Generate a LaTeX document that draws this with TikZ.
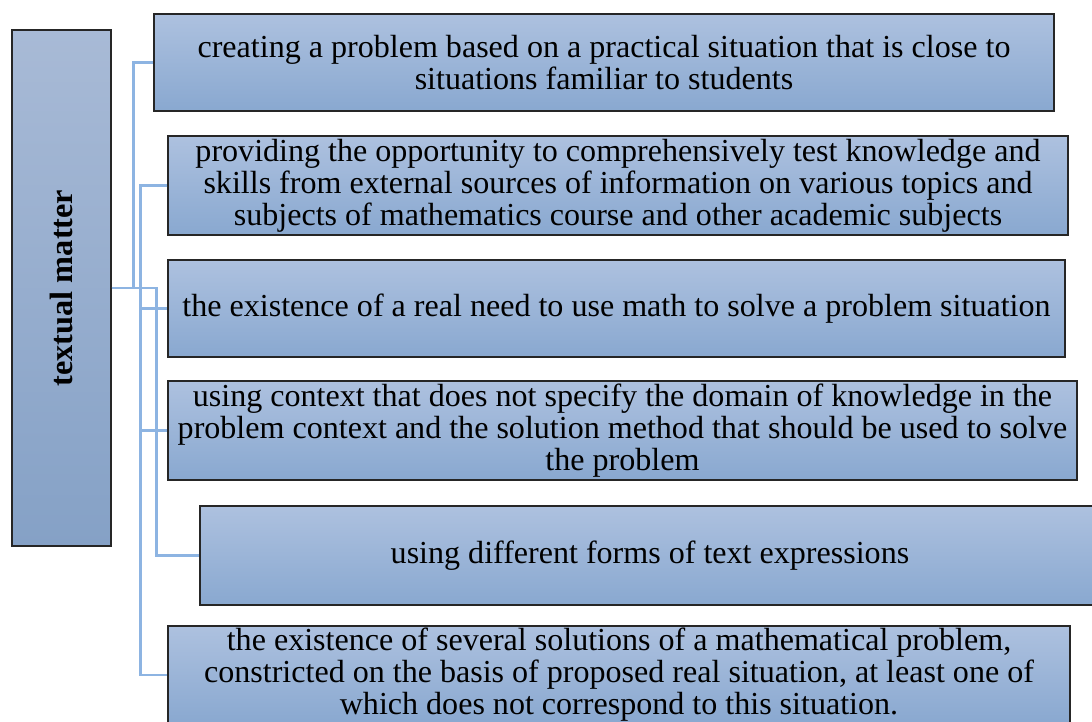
\documentclass[tikz,border=0pt]{standalone}
\usepackage{fontspec}
\setmainfont{Liberation Serif}
\usetikzlibrary{calc}

\definecolor{boxtop}{RGB}{173,193,223}
\definecolor{boxbot}{RGB}{137,168,208}
\definecolor{sidetop}{RGB}{168,186,214}
\definecolor{sidebot}{RGB}{133,161,198}
\definecolor{linkblue}{RGB}{141,180,226}

\tikzset{
	item/.style={draw=black!85, line width=0.9pt, top color=boxtop, bottom color=boxbot,
		align=center, inner sep=0pt, font=\fontsize{22.8}{22.8}\selectfont},
	side/.style={draw=black!85, line width=0.9pt, top color=sidetop, bottom color=sidebot,
		inner sep=0pt, minimum width=2.475cm, minimum height=12.9cm},
	link/.style={draw=linkblue, line width=1.7pt}
}

\begin{document}
\begin{tikzpicture}[x=0.025cm, y=-0.025cm]
			%%%%% START %%%%%
			\clip (0, 0) rectangle (1092, 722);
			
			% the tall box on the left
			\node[side] (tm) at (61.5, 288) {};
			\node[rotate=90, font=\fontsize{23}{23}\selectfont\bfseries] at (tm.center) {textual matter};
			
			% the six boxes on the right
			\node[item, minimum width=22.5cm, minimum height=2.425cm] (c1) at (604, 62.5)
				{creating a problem based on a practical situation that is close to\\situations familiar to students};
			\node[item, minimum width=22.5cm, minimum height=2.475cm] (c2) at (618, 185.5)
				{providing the opportunity to comprehensively test knowledge and\\skills from external sources of information on various topics and\\subjects of mathematics course and other academic subjects};
			\node[item, minimum width=22.425cm, minimum height=2.425cm] (c3) at (616.5, 308.5)
				{the existence of a real need to use math to solve a problem situation};
			\node[item, minimum width=22.725cm, minimum height=2.475cm] (c4) at (622.5, 430.5)
				{using context that does not specify the domain of knowledge in the\\problem context and the solution method that should be used to solve\\the problem};
			\node[item, minimum width=22.5cm, minimum height=2.475cm] (c5) at (650, 555.5)
				{using different forms of text expressions};
			\node[item, minimum width=22.55cm, minimum height=2.45cm] (c6) at (619, 675)
				{the existence of several solutions of a mathematical problem,\\constricted on the basis of proposed real situation, at least one of\\which does not correspond to this situation.};
			
			% connectors
			\coordinate (up) at ($(tm.east)+(22, 0)$);
			\coordinate (bus) at ($(tm.east)+(29, 0)$);
			\coordinate (low) at ($(tm.east)+(45, 0)$);
			
			\draw[link] (tm.east) -- (low) |- (c5.west);
			\draw[link] (tm.east) -- (up) |- (c1.west);
			\draw[link] (c2.west) -| (bus) |- (c6.west);
			\draw[link] (bus) |- (c3.west);
			\draw[link] (bus) |- (c4.west);
			%%%%% END %%%%%
		\end{tikzpicture}
\end{document}
